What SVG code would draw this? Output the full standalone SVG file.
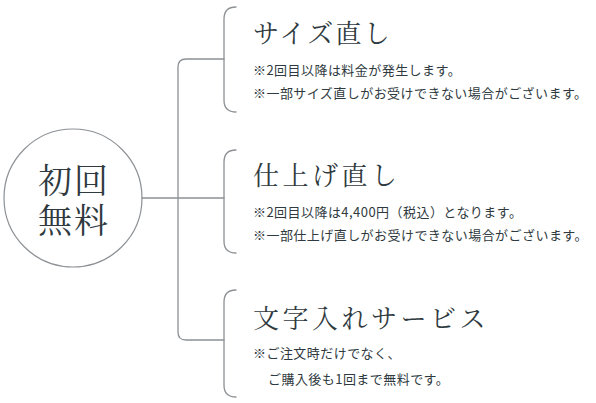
<svg xmlns="http://www.w3.org/2000/svg" width="596" height="403" viewBox="0 0 596 403">
<style>
.ln{fill:none;stroke:#8d9195;stroke-width:1.3;stroke-linecap:round}
.hd{font-family:"Noto Serif CJK JP","Noto Sans CJK JP",serif;font-size:26px;fill:#2f3a40;letter-spacing:3.5px}
.tx{font-family:"Noto Sans CJK JP",sans-serif;font-size:13px;fill:#2f3a40;letter-spacing:0.45px}
.ct{font-family:"Noto Serif CJK JP","Noto Sans CJK JP",serif;font-size:34px;fill:#2f3a40;text-anchor:middle;letter-spacing:2px}
</style>
<rect width="596" height="403" fill="#ffffff"/>
<g id="connectors">
<path class="ln" d="M142,198 H224"/>
<path class="ln" d="M224,59 H186 Q178,59 178,67 V332 Q178,340 186,340 H224"/>
<path class="ln" d="M236,7 Q224,7 224,19 V100 Q224,112 236,112"/>
<path class="ln" d="M236,150 Q224,150 224,162 V241 Q224,253 236,253"/>
<path class="ln" d="M236,290 Q224,290 224,302 V385 Q224,397 236,397"/>
</g>
<g id="center">
<circle cx="73" cy="198" r="69" fill="none" stroke="#8d9195" stroke-width="1.2"/>
<text class="ct" x="74" y="193"><tspan x="74" y="193">初回</tspan><tspan x="74" y="233">無料</tspan></text>
</g>
<g id="size">
<text class="hd" x="253" y="43" style="letter-spacing:2.2px">サイズ直し</text>
<text class="tx" x="253" y="75">※2回目以降は料金が発生します。</text>
<text class="tx" x="253" y="98">※一部サイズ直しがお受けできない場合がございます。</text>
</g>
<g id="finish">
<text class="hd" x="253" y="185">仕上げ直し</text>
<text class="tx" x="253" y="217">※2回目以降は4,400円（税込）となります。</text>
<text class="tx" x="253" y="240">※一部仕上げ直しがお受けできない場合がございます。</text>
</g>
<g id="engrave">
<text class="hd" x="253" y="328">文字入れサービス</text>
<text class="tx" x="253" y="358">※ご注文時だけでなく、</text>
<text class="tx" x="268" y="384">ご購入後も1回まで無料です。</text>
</g>
</svg>
